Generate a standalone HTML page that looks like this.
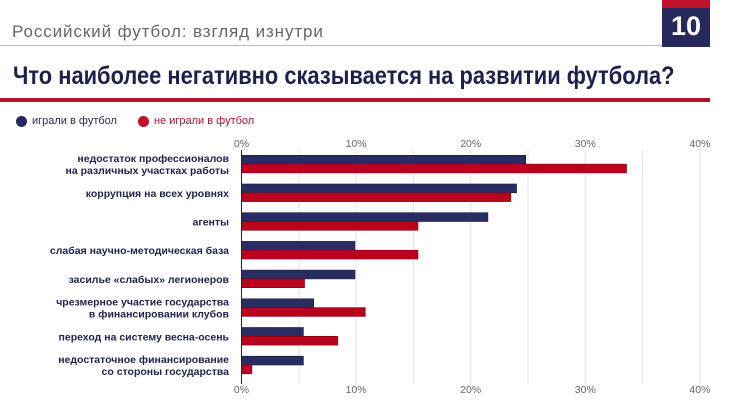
<!DOCTYPE html>
<html><head><meta charset="utf-8">
<style>
body{margin:0;background:#fff;}
#root{position:relative;width:730px;height:410px;overflow:hidden;font-family:"Liberation Sans","Noto Sans CJK SC",sans-serif;background:#fff;}
.abs{position:absolute;}
</style></head>
<body>
<div id="root">
  <div class="abs" style="left:12px;top:22px;font-size:17px;color:#666;letter-spacing:0.9px;font-weight:300;">Российский футбол: взгляд изнутри</div>
  <div class="abs" style="left:0;top:45px;width:662px;height:1px;background:#e4a9ae;"></div>
  <div class="abs" style="left:662px;top:0;width:48px;height:47px;background:#27295c;">
    <div style="height:8px;background:#c0102a;"></div>
    <div style="color:#fff;font-weight:bold;font-size:27px;text-align:center;line-height:36px;">10</div>
  </div>
  <div class="abs" style="left:13px;top:62px;font-size:25px;font-weight:bold;color:#1d1f50;transform:scaleX(0.875);transform-origin:left top;white-space:nowrap;">Что наиболее негативно сказывается на развитии футбола?</div>
  <div class="abs" style="left:0;top:98px;width:710px;height:4px;background:#b3122b;"></div>
  <div class="abs" style="left:16px;top:115px;font-size:11px;color:#27295c;display:flex;align-items:center;white-space:nowrap;">
    <span style="display:inline-block;width:11px;height:11px;border-radius:50%;background:#27295c;margin-right:5px;"></span>играли в футбол</div>
  <div class="abs" style="left:138px;top:115px;font-size:11px;color:#b3122b;display:flex;align-items:center;white-space:nowrap;">
    <span style="display:inline-block;width:11px;height:11px;border-radius:50%;background:#c0102a;margin-right:5px;"></span>не играли в футбол</div>
  <svg class="abs" id="chart" style="left:0;top:0" width="730" height="410"></svg>
</div>
<script>
const categories = [
  ["недостаток профессионалов","на различных участках работы"],
  ["коррупция на всех уровнях"],
  ["агенты"],
  ["слабая научно-методическая база"],
  ["засилье «слабых» легионеров"],
  ["чрезмерное участие государства","в финансировании клубов"],
  ["переход на систему весна-осень"],
  ["недостаточное финансирование","со стороны государства"]
];
const playedValues = [24.8, 24.0, 21.5, 9.9, 9.9, 6.3, 5.4, 5.4];
const notPlayedValues = [33.6, 23.5, 15.4, 15.4, 5.5, 10.8, 8.4, 0.9];
const tickValues = [0, 10, 20, 30, 40];
const tickLabels = ["0%", "10%", "20%", "30%", "40%"];

const NS = "http://www.w3.org/2000/svg";
const svg = document.getElementById("chart");
const x0 = 241.5, pxPer = 11.46;
const xs = v => x0 + v * pxPer;
const rowTop = i => 155.3 + i * 28.7;
const barH = 8.8;
function mk(tag, attrs){const e=document.createElementNS(NS,tag);for(const k in attrs)e.setAttribute(k,attrs[k]);svg.appendChild(e);return e;}

for (let v = 5; v <= 40; v += 5) {
  const g = mk("line",{x1:xs(v),x2:xs(v),y1:150,y2:384,stroke:"#e3e3e3","stroke-width":1});
  
  
}
tickValues.forEach((v,i)=>{
  [147,393].forEach(y=>{
    const t = mk("text",{x:xs(v),y:y,"text-anchor":"middle","font-size":10.5,fill:"#666","font-family":"Liberation Sans, sans-serif"});
    t.textContent = tickLabels[i];
    
    
  });
});
categories.forEach((lines,i)=>{
  const top = rowTop(i);
  const b1 = mk("rect",{x:x0,y:top,width:xs(playedValues[i])-x0,height:barH,fill:"#2a2d63",stroke:"#151737","stroke-width":0.6});
  
  
  const b2 = mk("rect",{x:x0,y:top+barH,width:xs(notPlayedValues[i])-x0,height:barH,fill:"#b8041f",stroke:"#8a0016","stroke-width":0.6});
  
  
  const cy = top + barH;
  const n = lines.length;
  lines.forEach((ln,j)=>{
    const t = mk("text",{x:229,y:cy+4+(j-(n-1)/2)*12,"text-anchor":"end","font-size":10.5,"font-weight":"bold",fill:"#1f2250","font-family":"Liberation Sans, sans-serif"});
    t.textContent = ln;
    
    
  });
});
const ax = mk("line",{x1:x0,x2:x0,y1:150,y2:384,stroke:"#222","stroke-width":1});


</script>
</body></html>
